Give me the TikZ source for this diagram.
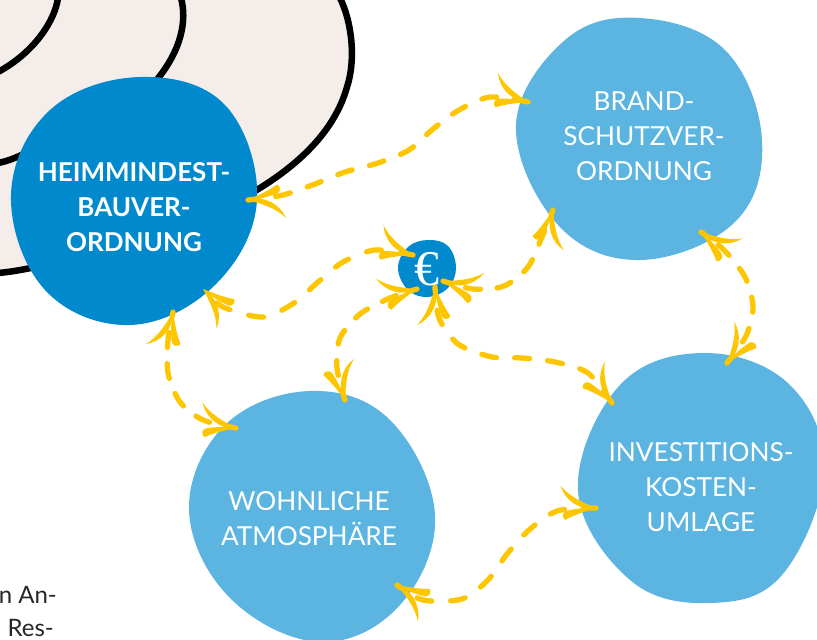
\documentclass[tikz,border=0pt]{standalone}
\usepackage{fontspec}
\setmainfont{Lato}
\newfontfamily\eurofont{Liberation Serif}
\definecolor{dkblue}{HTML}{0089CC}
\definecolor{ltblue}{HTML}{5CB5E1}
\definecolor{beige}{HTML}{F4EDEA}
\definecolor{gold}{HTML}{FDC600}
\tikzset{
  blobdark/.style={fill=dkblue,draw=none},
  bloblight/.style={fill=ltblue,draw=none},
  outline/.style={draw=black,line width=6.5pt,line cap=round},
  label/.style={text=white,align=center,font=\fontsize{26.2}{35}\selectfont},
  labelb/.style={label,font=\fontsize{26}{35}\selectfont\bfseries},
  bodytext/.style={anchor=base east,font=\fontsize{24}{24}\selectfont,text=black!85,inner sep=0pt},
  dashy/.style={draw=gold,line width=5.3pt,line cap=round},
  hd/.pic={
    \fill[gold] (0,0) .. controls (-14,-4) and (-28,-8) .. (-38,-18)
      .. controls (-32,-4) and (-16,5) .. (0,0) -- cycle;
    \fill[gold] (0,0) .. controls (-10,4.5) and (-20,9) .. (-29,15.5)
      .. controls (-33,14) and (-33,8) .. (-29,6.5) .. controls (-20,3) and (-10,0.5) .. (0,0) -- cycle;
  }
}
\begin{document}
\begin{tikzpicture}[x=1pt,y=-1pt]
\useasboundingbox (0,0) rectangle (817,640);
\begin{scope}
\clip (0,0) rectangle (817,640);
% background rings
\fill[beige] (0,0) -- (340,0) .. controls (352,22) and (356,60) .. (347,87)
  .. controls (335,130) and (300,165) .. (257,190) -- (35,267) .. controls (22,270) and (10,272) .. (0,273) -- cycle;
\draw[outline] (340,-2) .. controls (352,22) and (356,60) .. (347,87)
  .. controls (335,130) and (300,165) .. (250,194);
\draw[outline] (40,266) .. controls (22,270) and (10,272) .. (-2,273);
\draw[outline] (181,-2) .. controls (187,20) and (182,50) .. (155,82);
\draw[outline] (26,153) .. controls (15,158) and (8,161) .. (-2,163);
\draw[outline] (58,-2) .. controls (55,20) and (35,52) .. (-2,72);
% blobs
\fill[blobdark] plot[smooth cycle,tension=.65] coordinates {(140,77) (225,105) (257,200) (215,285) (130,325) (45,290) (11,195) (50,110)};
\fill[bloblight] plot[smooth cycle,tension=.65] coordinates {(640,18) (725,50) (762,140) (735,222) (640,260) (558,225) (516,125) (565,40)};
\fill[bloblight] plot[smooth cycle,tension=.65] coordinates {(705,353) (790,385) (824,470) (782,575) (710,603) (630,580) (578,490) (620,385)};
\fill[bloblight] plot[smooth cycle,tension=.65] coordinates {(310,391) (390,420) (435,515) (400,605) (320,642) (230,598) (189,510) (225,425)};
\fill[dkblue] plot[smooth cycle,tension=.65] coordinates {(398,268) (408,247) (428,240) (448,246) (456,268) (448,288) (428,297) (408,290)};
\end{scope}
% labels
\node[labelb] (heim) at (134,207) {HEIMMINDEST-\\BAUVER-\\ORDNUNG};
\node[label] (brand) at (644,136) {BRAND-\\SCHUTZVER-\\ORDNUNG};
\node[label] (invest) at (701,487) {INVESTITIONS-\\KOSTEN-\\UMLAGE};
\node[label] (wohn) at (309,519) {WOHNLICHE\\ATMOSPHÄRE};
\node[text=white,font=\fontsize{50}{50}\selectfont\eurofont] (euro) at (427,269) {€};
\node[bodytext] (ta) at (57,603) {n An-};
\node[bodytext] (tb) at (54,636.5) {Res-};
% connector ends
\coordinate (hE) at (248,200);
\coordinate (bW) at (528,102);
\coordinate (hS) at (203,289);
\coordinate (eW) at (413,255);
\coordinate (hB) at (173,312);
\coordinate (wN) at (236,428);
\coordinate (wT) at (345,400);
\coordinate (eB) at (417,289);
\coordinate (eS) at (435,287);
\coordinate (iW) at (612,403);
\coordinate (eE) at (443,281);
\coordinate (bS) at (553,210);
\coordinate (bB) at (701,232);
\coordinate (iT) at (727,363);
\coordinate (iL) at (596,508);
\coordinate (wR) at (397,585);
% connectors
\draw[dashy,dash pattern=on 15pt off 18pt,dash phase=5.1pt] plot[smooth,tension=.5] coordinates {(hE) (283,195) (315,184) (345,172) (378,163) (409,150) (433,129) (459,110) (490,97) (bW)};
\draw[dashy,dash pattern=on 15pt off 19.6pt,dash phase=15.1pt] plot[smooth,tension=.5] coordinates {(hS) (223,307) (263,317) (294,303) (318,282) (343,262) (375,250) (eW)};
\draw[dashy,dash pattern=on 15pt off 16.2pt,dash phase=10.3pt] plot[smooth,tension=.5] coordinates {(hB) (168,340) (168,373) (180,402) (203,420) (wN)};
\draw[dashy,dash pattern=on 15pt off 16.7pt,dash phase=6.2pt] plot[smooth,tension=.5] coordinates {(wT) (337,368) (340,338) (360,314) (390,298) (eB)};
\draw[dashy,dash pattern=on 15pt off 18.2pt,dash phase=9.7pt] plot[smooth,tension=.5] coordinates {(eS) (439,318) (458,344) (492,357) (523,358) (555,362) (588,373) (iW)};
\draw[dashy,dash pattern=on 15pt off 16.7pt,dash phase=8.2pt] plot[smooth,tension=.5] coordinates {(eE) (473,289) (504,286) (528,267) (542,237) (bS)};
\draw[dashy,dash pattern=on 15pt off 16.7pt,dash phase=10.2pt] plot[smooth,tension=.5] coordinates {(bB) (724,250) (745,277) (753,307) (746,336) (iT)};
\draw[dashy,dash pattern=on 15pt off 18.9pt,dash phase=2.4pt] plot[smooth,tension=.5] coordinates {(iL) (557,511) (529,530) (507,554) (488,580) (462,599) (423,600) (wR)};
% arrowheads
\pic[rotate=180] at (hE) {hd};
\pic[rotate=-19] at (bW) {hd};
\pic[rotate=134] at (hS) {hd};
\pic[rotate=-20] at (eW) {hd};
\pic[rotate=75] at (hB) {hd};
\pic[rotate=-12] at (wN) {hd};
\pic[rotate=-77] at (wT) {hd};
\pic[rotate=11] at (eB) {hd};
\pic[rotate=90] at (eS) {hd};
\pic[rotate=-55] at (iW) {hd};
\pic[rotate=166,yscale=-1] at (eE) {hd};
\pic[rotate=80,yscale=-1] at (bS) {hd};
\pic[rotate=146,yscale=-1] at (bB) {hd};
\pic[rotate=-125,yscale=-1] at (iT) {hd};
\pic[rotate=-7] at (iL) {hd};
\pic[rotate=145] at (wR) {hd};
\end{tikzpicture}
\end{document}
